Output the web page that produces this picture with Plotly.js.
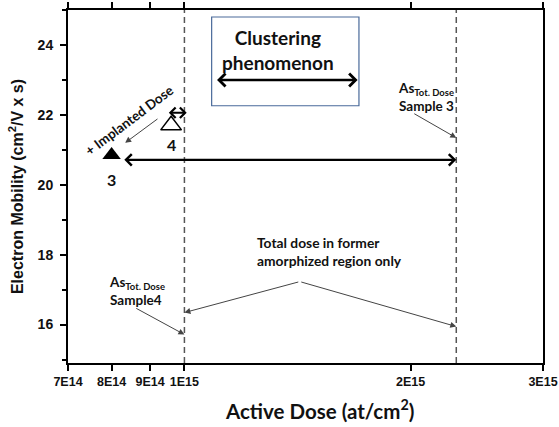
<!DOCTYPE html>
<html>
<head>
<meta charset="utf-8">
<script src="https://cdn.plot.ly/plotly-3.0.1.min.js"></script>
<style>html,body{margin:0;padding:0;background:#fff;}#chart{width:559px;height:427px;}</style>
</head>
<body>
<div id="chart"></div>
<script>
// ---- data ----
const sampleLabels = ['3', '4'];
const activeDose = [8.0e14, 9.6e14];      // at/cm2
const mobility = [20.85, 21.7];           // cm2/Vs
const totalDose = [2.3e15, 1.0e15];       // As total dose: sample 3, sample 4
const xTickVals = [7e14, 8e14, 9e14, 1e15, 2e15, 3e15];
const xTickText = ['7E14', '8E14', '9E14', '1E15', '2E15', '3E15'];
const yTickVals = [16, 18, 20, 22, 24];
const yTickText = ['16', '18', '20', '22', '24'];
const xRange = [7e14, 3e15];
const yRange = [14.9, 25];

const L = Math.log10;
const B = s => '<b>' + s + '</b>';
const bold = (size, fam) => ({family: fam || 'Lato, "Open Sans", sans-serif', size: size, color: '#111', weight: 700});
const ARIAL = '"Liberation Sans", Arial, sans-serif';

const traces = [];
// dashed total-dose lines
totalDose.forEach(td => traces.push({
  x: [td, td], y: yRange, mode: 'lines', hoverinfo: 'skip',
  line: {color: '#555', width: 1.5, dash: '6px,4px'}
}));
// samples
traces.push({
  x: [activeDose[0]], y: [mobility[0]], mode: 'markers',
  marker: {symbol: 'triangle-up', size: 16, color: '#000'}
});
traces.push({
  x: [activeDose[1]], y: [mobility[1]], mode: 'markers',
  marker: {symbol: 'triangle-up-open', size: 18, color: '#000', line: {width: 1.5, color: '#000'}}
});

function arrow(x, y, ax, ay, opts) {
  return Object.assign({
    x: x, y: y, ax: ax, ay: ay, xref: 'x', yref: 'y', axref: 'x', ayref: 'y',
    text: '', showarrow: true, arrowcolor: '#444', arrowwidth: 1, arrowhead: 2,
    arrowsize: 1.2, standoff: 0, startstandoff: 0
  }, opts || {});
}
function label(x, y, text, opts) {
  return Object.assign({x: x, y: y, xref: 'x', yref: 'y', text: text, showarrow: false, font: bold(13.5)}, opts || {});
}

const annotations = [
  // clustering
  label(L(1.33e15), 23.86, B('Clustering<br>phenomenon'), {font: bold(19)}),
  arrow(L(1.70e15), 23.0, L(1.10e15), 23.0, {arrowside: 'end+start', arrowcolor: '#000', arrowwidth: 2.5, arrowhead: 4, arrowsize: 1}),
  // long double arrow
  arrow(L(totalDose[0]), 20.714, L(8.28e14), 20.714, {arrowside: 'end+start', arrowcolor: '#000', arrowwidth: 2.2, arrowhead: 4, arrowsize: 1}),
  // small double arrow
  arrow(L(1.007e15), 22.06, L(9.49e14), 22.06, {arrowside: 'end+start', arrowcolor: '#000', arrowwidth: 2, arrowhead: 4, arrowsize: 1}),
  // implanted dose
  label(L(8.45e14), 21.857, B('+ Implanted Dose'), {textangle: -37, font: bold(13.5)}),
  arrow(L(8.34e14), 21.2, L(9.25e14), 21.914),
  // sample labels
  label(L(activeDose[0]), mobility[0], B(sampleLabels[0]), {yshift: -24, font: bold(16)}),
  label(L(activeDose[1]), mobility[1], B(sampleLabels[1]), {yshift: -19, font: bold(16)}),
  // sample 3 total dose
  label(L(1.91e15), 22.5, B('As<sub>Tot. Dose</sub><br>Sample 3'), {xanchor: 'left', align: 'left'}),
  arrow(L(totalDose[0]), 21.343, L(2.013e15), 22.057),
  // sample 4 total dose
  label(L(7.9e14), 16.96, B('As<sub>Tot. Dose</sub><br>Sample4'), {xanchor: 'left', align: 'left'}),
  arrow(L(totalDose[1]), 15.714, L(8.59e14), 16.486),
  // total dose in amorphized region
  label(L(1.24e15), 18.086, B('Total dose in former<br>amorphized region only'), {xanchor: 'left', align: 'left', font: bold(13.8)}),
  arrow(L(totalDose[1]), 16.343, L(1.424e15), 17.229),
  arrow(L(totalDose[0]), 15.943, L(1.424e15), 17.229),
  // x axis title
  {x: 0.5305, y: -0.133, xref: 'paper', yref: 'paper', text: B('Active Dose (at/cm<sup>2</sup>)'), showarrow: false, font: bold(20.5), yanchor: 'middle'}
];

const layout = {
  width: 559, height: 427,
  margin: {l: 68, r: 16, t: 10, b: 64},
  paper_bgcolor: '#fff', plot_bgcolor: '#fff',
  showlegend: false,
  xaxis: {
    type: 'log', range: xRange.map(L),
    tickvals: xTickVals, ticktext: xTickText.map(B),
    tickfont: bold(12.5, ARIAL),
    ticks: 'outside', ticklen: 6, tickwidth: 2, tickcolor: '#000',
    showline: true, linewidth: 2, linecolor: '#000', mirror: 'ticks',
    showgrid: false, zeroline: false
  },
  yaxis: {
    range: yRange, tickvals: yTickVals, ticktext: yTickText.map(B),
    tickfont: bold(14, ARIAL),
    ticks: 'outside', ticklen: 6, tickwidth: 2, tickcolor: '#000',
    minor: {dtick: 1, ticks: 'outside', ticklen: 4, tickwidth: 2, tickcolor: '#000', showgrid: false},
    ticklabelstandoff: 4,
    showline: true, linewidth: 2, linecolor: '#000', mirror: true,
    showgrid: false, zeroline: false,
    title: {text: B('Electron Mobility (cm<sup>2</sup>/V x s)'), font: bold(16, ARIAL), standoff: 10}
  },
  shapes: [{
    type: 'rect', xref: 'x', yref: 'y',
    x0: 1.087e15, x1: 1.707e15, y0: 22.26, y1: 24.8,
    line: {color: '#4a6a9a', width: 1.2}, fillcolor: 'rgba(0,0,0,0)'
  }],
  annotations: annotations
};

Plotly.newPlot('chart', traces, layout, {displayModeBar: false, staticPlot: true});
</script>
</body>
</html>
